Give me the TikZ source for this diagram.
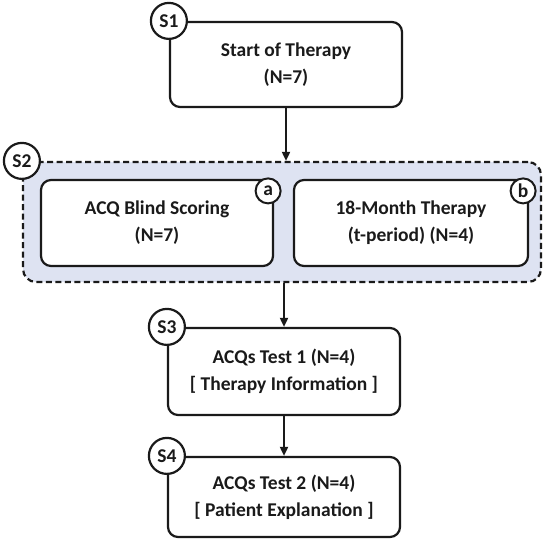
\documentclass[tikz,border=0pt]{standalone}
\usepackage{fontspec}
\setmainfont{Carlito}
\usepackage{xcolor}
\definecolor{groupBack}{HTML}{DEE3F2}
\definecolor{lineDark} {HTML}{1A1A1A}
\usetikzlibrary{arrows.meta, positioning, calc}

\begin{document}
\begin{tikzpicture}[
    x=1pt, y=-1pt,
    every node/.style={font=\bfseries\fontsize{19.5}{27}\selectfont, text=lineDark},
    stepbox/.style={draw=lineDark, line width=2.2pt, rectangle, rounded corners=10pt,
                    fill=white, align=center, minimum width=232pt, inner sep=0pt},
    group/.style={draw=lineDark, line width=2.2pt, dash pattern=on 6pt off 3.5pt,
                  rounded corners=13pt, fill=groupBack,
                  minimum width=518pt, minimum height=120pt},
    stepnum/.style={draw=lineDark, line width=2.2pt, circle, fill=white,
                    minimum size=36pt, inner sep=0pt},
    subnum/.style={draw=lineDark, line width=2pt, circle, fill=white,
                   minimum size=25pt, inner sep=0pt},
    arr/.style={-{Triangle[length=9pt, width=8pt]}, line width=1.8pt, draw=lineDark}
]
\useasboundingbox (0,0) rectangle (550,553);
% Start
\node[stepbox, minimum height=85pt] (s1) at (286, 64.5)
    {Start of Therapy\\(N=7)};
\node[stepnum] (n1) at (s1.north west) {S1};
% Group with the two parallel steps
\node[group] (s2) at (282, 222) {};
\node[stepnum] (n2) at (s2.north west) {S2};
\node[stepbox, minimum height=86pt] (a) at (157, 223)
    {ACQ Blind Scoring\\(N=7)};
\node[stepbox, minimum height=86pt, minimum width=234pt] (b) at (411, 223)
    {18-Month Therapy\\(t-period) (N=4)};
\node[subnum] (na) at ([shift={(-6,12)}]a.north east) {a};
\node[subnum] (nb) at ([shift={(-6,12)}]b.north east) {b};
% Tests
\node[stepbox, minimum height=87pt] (s3) at (284, 371.5)
    {ACQs Test 1 (N=4)\\{[} Therapy Information ]};
\node[stepnum] (n3) at (s3.north west) {S3};
\node[stepbox, minimum height=80pt] (s4) at (284, 497)
    {ACQs Test 2 (N=4)\\{[} Patient Explanation ]};
\node[stepnum] (n4) at (s4.north west) {S4};
% Arrows
\draw[arr] (s1.south) -- (s1.south |- s2.north);
\draw[arr] (s3.north |- s2.south) -- (s3.north);
\draw[arr] (s3.south) -- (s4.north);
\end{tikzpicture}
\end{document}
